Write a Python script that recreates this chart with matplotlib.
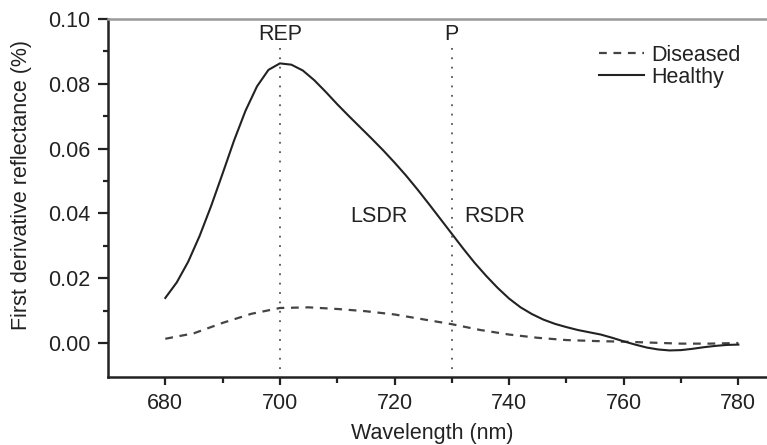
import matplotlib
matplotlib.use('Agg')
import matplotlib.pyplot as plt
from matplotlib.ticker import FixedLocator

plt.rcParams['font.family'] = ['Liberation Sans', 'DejaVu Sans']

# healthy leaf, first derivative
healthy_wl = [680, 682, 684, 686, 688, 690, 692, 694, 696, 698,
              700, 702, 704, 706, 708, 710, 712, 714, 716, 718,
              720, 722, 724, 726, 728, 730, 732, 734, 736, 738,
              740, 742, 744, 746, 748, 750, 752, 754, 756, 758,
              760, 762, 764, 766, 768, 770, 772, 774, 776, 778, 780]
healthy = [0.0139, 0.0187, 0.0251, 0.0331, 0.0423, 0.0523, 0.0625, 0.0717, 0.0792, 0.0843,
           0.0863, 0.0859, 0.0841, 0.0811, 0.0775, 0.0737, 0.0701, 0.0666, 0.0631, 0.0595,
           0.0557, 0.0517, 0.0474, 0.0429, 0.0383, 0.0337, 0.0291, 0.0247, 0.0207, 0.0170,
           0.0137, 0.0110, 0.0089, 0.0072, 0.0059, 0.0049, 0.0040, 0.0033, 0.0026, 0.0016,
           0.0005, -0.0005, -0.0014, -0.0020, -0.0023, -0.0022, -0.0018, -0.0013, -0.0009,
           -0.0006, -0.0005]

# diseased leaf
diseased_wl = [680, 685, 690, 695, 700, 705, 710, 715, 720, 725,
               730, 735, 740, 745, 750, 755, 760, 765, 770, 775, 780]
diseased = [0.0013, 0.003, 0.0062, 0.009, 0.0108, 0.011, 0.0105, 0.0098, 0.0088, 0.0073,
            0.0058, 0.004, 0.0026, 0.0016, 0.0009, 0.0006, 0.0004, 0.0001, -0.0002, -0.0002, 0.0]

rep_wl = 700
p_wl = 730
fs = 15.5

fig = plt.figure(figsize=(7.67, 4.45), dpi=100)
ax = fig.add_axes([108 / 767, 1 - 377 / 445, 1 - 108 / 767, (377 - 19) / 445])

ax.plot(diseased_wl, diseased, color='#444444', lw=1.6, linestyle=(0, (3.5, 3)), label='Diseased')
ax.plot(healthy_wl, healthy, color='#222222', lw=1.5, label='Healthy',
        solid_joinstyle='round')

# REP and P markers
for wl in (rep_wl, p_wl):
    ax.vlines(wl, -0.008, 0.0915, colors='#555555', lw=1.3, linestyles=[(0, (1, 4.2))])
ax.text(rep_wl, 0.0952, 'REP', ha='center', va='center', fontsize=fs, color='#222222')
ax.text(p_wl, 0.0952, 'P', ha='center', va='center', fontsize=fs, color='#222222')
ax.text(717.2, 0.039, 'LSDR', ha='center', va='center', fontsize=fs, color='#222222')
ax.text(737.5, 0.039, 'RSDR', ha='center', va='center', fontsize=fs, color='#222222')

ax.set_xlim(670, 785)
ax.set_ylim(-0.0105, 0.10)
ax.xaxis.set_major_locator(FixedLocator([680, 700, 720, 740, 760, 780]))
ax.xaxis.set_minor_locator(FixedLocator([690, 710, 730, 750, 770]))
ax.yaxis.set_major_locator(FixedLocator([0.0, 0.02, 0.04, 0.06, 0.08, 0.10]))
ax.yaxis.set_minor_locator(FixedLocator([0.01, 0.03, 0.05, 0.07, 0.09]))
ax.yaxis.set_major_formatter(plt.FuncFormatter(lambda v, p: '%.2f' % v))

ax.tick_params(axis='both', which='both', direction='out', width=1.6, colors='#222222',
               labelsize=fs, labelcolor='#222222')
ax.tick_params(axis='y', which='major', length=7.5, pad=5)
ax.tick_params(axis='y', which='minor', length=3.5)
ax.tick_params(axis='x', which='major', length=5.5, pad=6)
ax.tick_params(axis='x', which='minor', length=4)

ax.spines['right'].set_visible(False)
ax.spines['top'].set_color('#999999')
ax.spines['top'].set_linewidth(1.8)
for s in ('left', 'bottom'):
    ax.spines[s].set_color('#222222')
    ax.spines[s].set_linewidth(1.8)

ax.set_xlabel('Wavelength (nm)', fontsize=fs, color='#222222')
ax.set_ylabel('First derivative reflectance (%)', fontsize=fs, color='#222222')
ax.xaxis.set_label_coords(0.492, -0.128)
ax.yaxis.set_label_coords(-0.115, 0.536)

leg = ax.legend(loc='upper left', bbox_to_anchor=(0.722, 0.97), frameon=False, fontsize=fs,
                handlelength=2.1, handletextpad=0.35, labelspacing=0.05, borderpad=0.2)
for t in leg.get_texts():
    t.set_color('#222222')

fig.savefig('out.png', dpi=100)
